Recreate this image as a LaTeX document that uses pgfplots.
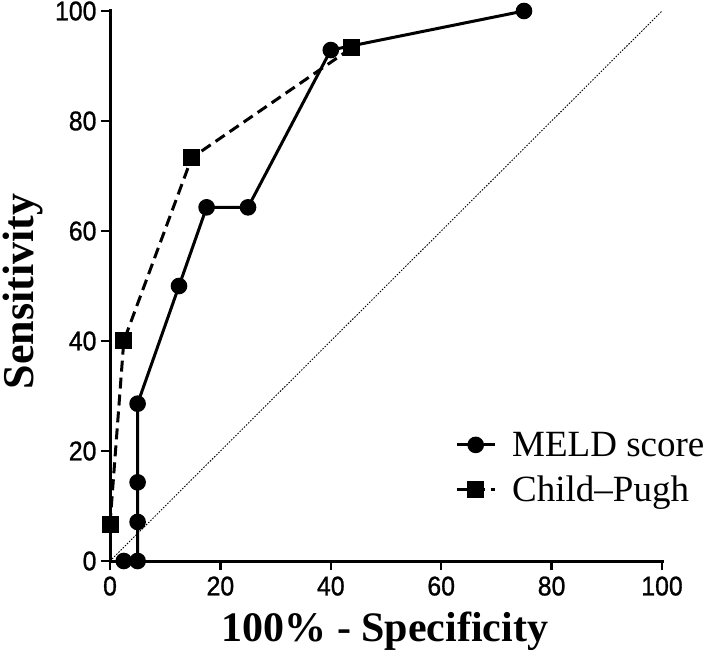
\documentclass[border=0pt]{standalone}
\usepackage{fontspec}
\setmainfont{Liberation Serif}
\newfontfamily\tickfont[FakeStretch=0.92,FakeBold=1]{Liberation Sans}
\usepackage{pgfplots}
\pgfplotsset{compat=1.18}
\begin{document}
\begin{tikzpicture}
\path[use as bounding box] (0,0) rectangle (711pt,658pt);
\begin{axis}[
  at={(110pt,97pt)}, anchor=south west,
  width=552pt, height=550pt, scale only axis,
  xmin=0, xmax=100, ymin=0, ymax=100,
  axis lines*=left,
  axis line style={line width=3pt, line cap=rect},
  tick style={line width=2.5pt, black},
  tick align=outside, major tick length=9pt,
  xtick={0,20,...,100}, ytick={0,20,...,100},
  /pgf/number format/assume math mode=true,
  ticklabel style={font=\tickfont\fontsize{27}{27}\selectfont},
  xticklabel style={yshift=-3pt},
  yticklabel style={xshift=-1pt},
  clip=false,
  xlabel={100\% - Specificity},
  ylabel={Sensitivity},
  xlabel style={font=\bfseries\fontsize{42}{42}\selectfont, at={(axis description cs:0.498,-0.147)}, anchor=base},
  ylabel style={font=\bfseries\fontsize{44}{44}\selectfont, at={(axis description cs:-0.139,0.49)}, anchor=base},
  legend style={draw=none, fill=none, font=\fontsize{37}{37}\selectfont, at={(axis description cs:0.625,0.17)}, anchor=west, row sep=14pt, inner sep=0pt},
  legend cell align=left,
  legend image code/.code={\draw[mark repeat=2,mark phase=2] plot coordinates {(0pt,0pt)(19pt,0pt)(38pt,0pt)}; \path (52pt,0pt);},
]
\addplot[forget plot, black, line width=0.9pt, dash pattern=on 1.5pt off 1.5pt] coordinates {(0,0) (100,100)};
\addplot[black, line width=3pt, mark=*, mark size=6.8pt, mark options={solid}] coordinates {
(2.5,0) (5,0) (5,7.1) (5,14.3) (5,28.6) (12.5,50) (17.5,64.3) (25,64.3) (40,92.9) (75,100)};
\addlegendentry{MELD score}
\addplot[black, line width=3pt, dash pattern=on 11pt off 6pt, mark=square*, mark size=7pt, mark options={solid}] coordinates {
(0,6.7) (2.5,40) (14.8,73.3) (43.8,93.3)};
\addlegendentry{Child--Pugh}
\end{axis}
\end{tikzpicture}
\end{document}
